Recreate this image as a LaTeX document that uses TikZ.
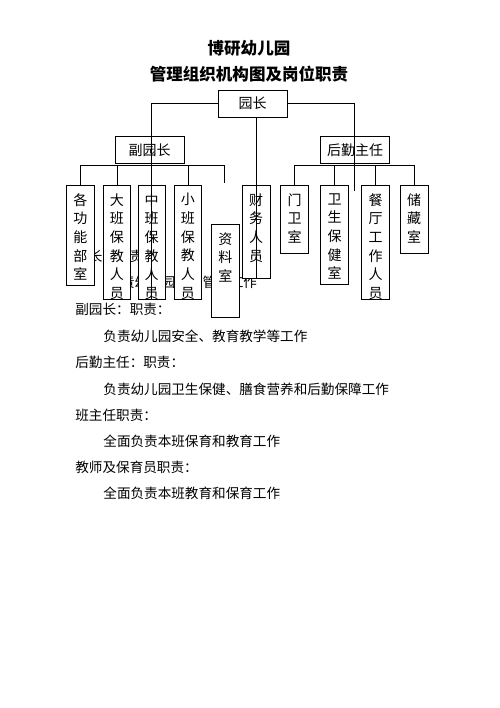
\documentclass[tikz,border=0pt]{standalone}
\usepackage{fontspec}
\setmainfont{Noto Sans CJK SC}
\usetikzlibrary{positioning}
\newcommand{\vtext}[2]{\parbox[c][#1][t]{14pt}{\fontsize{10.5pt}{14pt}\selectfont\centering\vspace*{6pt}#2}}
\tikzset{
  every picture/.style={line width=0.6pt},
  topbox/.style={draw, fill=white, minimum width=51.75pt, minimum height=20.25pt, inner sep=0pt, font=\fontsize{10.5pt}{12pt}\selectfont},
  colbox/.style={draw, fill=white, anchor=north, minimum width=20.6pt, inner sep=0pt},
  body/.style={anchor=west, inner sep=0pt, font=\fontsize{10.2pt}{12pt}\selectfont},
  heading/.style={inner sep=0pt, font=\fontsize{12.4pt}{15pt}\selectfont\bfseries},
  link/.style={draw=black, line width=0.6pt},
}

\begin{document}
\begin{tikzpicture}[x=0.75pt, y=-0.75pt]
  \useasboundingbox (0,0) rectangle (500,708);
  \node[heading] (title1) at (249,48.5) {博研幼儿园};
  \node[heading] (title2) at (249,74.5) {管理组织机构图及岗位职责};
  \node[body] (d1) at (75,256) {园长：职责：};
  \node[body] (d2) at (107,282) {负责幼儿园全面管理工作};
  \node[body] (d3) at (75,309) {副园长：职责：};
  \node[body] (d4) at (103,336) {负责幼儿园安全、教育教学等工作};
  \node[body] (d5) at (75,362) {后勤主任：职责：};
  \node[body] (d6) at (103,389) {负责幼儿园卫生保健、膳食营养和后勤保障工作};
  \node[body] (d7) at (75,415) {班主任职责：};
  \node[body] (d8) at (103,441) {全面负责本班保育和教育工作};
  \node[body] (d9) at (75,467) {教师及保育员职责：};
  \node[body] (d10) at (103,493) {全面负责本班教育和保育工作};

  \node[topbox] (yz) at (252.5,103.5) {园长};
  \node[topbox] (fyz) at (149.5,150) {副园长};
  \node[topbox] (hq) at (355,150) {后勤主任};
  \node[colbox] (gn) at (80.5,185) {\vtext{75pt}{各\\功\\能\\部\\室}};
  \node[colbox] (db) at (117,185) {\vtext{85.5pt}{大\\班\\保\\教\\人\\员}};
  \node[colbox] (zb) at (151.7,185) {\vtext{85.5pt}{中\\班\\保\\教\\人\\员}};
  \node[colbox] (xb) at (187.9,185) {\vtext{85.5pt}{小\\班\\保\\教\\人\\员}};
  \node[colbox] (zl) at (225.4,224) {\vtext{69.75pt}{资\\料\\室}};
  \node[colbox] (cw) at (256.2,185) {\vtext{69.75pt}{财\\务\\人\\员}};
  \node[colbox] (mw) at (294.5,185) {\vtext{51pt}{门\\卫\\室}};
  \node[colbox] (ws) at (334.5,185) {\vtext{74.25pt}{卫\\生\\保\\健\\室}};
  \node[colbox] (ct) at (375.5,185) {\vtext{85.5pt}{餐\\厅\\工\\作\\人\\员}};
  \node[colbox] (cc) at (414.2,185) {\vtext{51pt}{储\\藏\\室}};

  \coordinate (fbar) at (0,165);
  \coordinate (hbar) at (0,165);
  \coordinate (zl-stub) at (224,183);
  \coordinate (hq-end) at (354,191);
  \draw[link] (gn.north) -- (gn.north |- fbar) -- (zl-stub |- fbar) -- (zl-stub);
  \foreach \n in {db,xb} \draw[link] (\n.north) -- (\n.north |- fbar);
  \draw[link] (mw.north) -- (mw.north |- hbar) -- (cc.north |- hbar) -- (cc.north);
  \foreach \n in {ws,ct} \draw[link] (\n.north) -- (\n.north |- hbar);
  \draw[link] (yz.west) -| (zb.south);
  \draw[link] (cw.north |- yz.south) -- (cw.south);
  \draw[link] (yz.east) -| (hq-end);
\end{tikzpicture}
\end{document}
